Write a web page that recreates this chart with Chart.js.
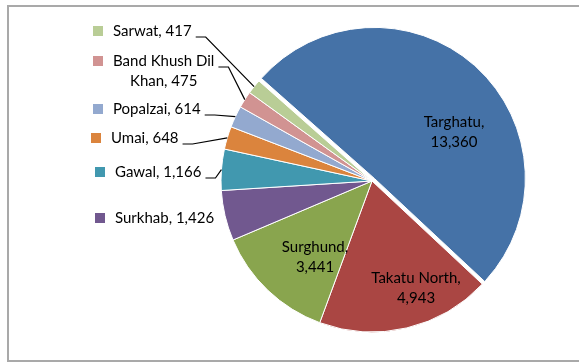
<!DOCTYPE html>
<html>
<head>
<meta charset="utf-8">
<script src="https://cdn.jsdelivr.net/npm/chart.js@4.4.0/dist/chart.umd.min.js"></script>
<style>
  html, body { margin: 0; padding: 0; background: #fff; }
  canvas { display: block; }
</style>
</head>
<body>
<canvas id="pie" width="579" height="363"></canvas>
<script>
// households by district
const districts = ['Targhatu', 'Takatu North', 'Surghund', 'Surkhab', 'Gawal', 'Umai', 'Popalzai', 'Band Khush Dil Khan', 'Sarwat'];
const households = [13360, 4943, 3441, 1426, 1166, 648, 614, 475, 417];
const sliceColors = ['#4572A7', '#AA4643', '#89A54E', '#71588F', '#4198AF', '#DB843D', '#93A9CF', '#D19392', '#B9CD96'];

// label placement, relative to the pie centre
// inside labels: centre of the text block; outside labels: left edge of the text
const labelSpots = [
  { dx: 82, dy: -49, inside: true },
  { dx: 44, dy: 107, inside: true },
  { dx: -57, dy: 76, inside: true },
  { dx: -257, dy: 37 },
  { dx: -257, dy: -9, leader: true },
  { dx: -261, dy: -43, leader: true },
  { dx: -259, dy: -72, leader: true },
  { dx: -259, dy: -110, leader: true, breakAt: 3 },
  { dx: -259, dy: -150, leader: true }
];

const FONT = '15px Lato';
const LINE_H = 20;
const EXPLODE = 3.5;   // first slice pulled out a little

const explodeFirst = {
  id: 'explodeFirst',
  afterDatasetUpdate(chart, args) {
    const arc = args.meta.data[0];
    if (!arc) return;
    const mid = (arc.startAngle + arc.endAngle) / 2;
    arc.x += Math.cos(mid) * EXPLODE;
    arc.y += Math.sin(mid) * EXPLODE;
  }
};

const frame = {
  id: 'frame',
  beforeDraw(chart) {
    const ctx = chart.ctx;
    ctx.save();
    ctx.strokeStyle = '#a9a9a9';
    ctx.lineWidth = 2;
    ctx.strokeRect(8, 6, 620, 355);
    ctx.restore();
  }
};

const sliceLabels = {
  id: 'sliceLabels',
  afterDatasetsDraw(chart) {
    const ctx = chart.ctx;
    const arcs = chart.getDatasetMeta(0).data;
    const cx = arcs[1].x, cy = arcs[1].y;
    ctx.save();
    ctx.font = FONT;
    ctx.fillStyle = '#000';
    ctx.strokeStyle = '#000';
    ctx.lineWidth = 1.2;
    ctx.textBaseline = 'middle';

    arcs.forEach((arc, i) => {
      const spot = labelSpots[i];
      const valueText = households[i].toLocaleString('en-US');
      let lines;
      if (spot.inside) {
        lines = [districts[i] + ',', valueText];
      } else {
        const words = (districts[i] + ', ' + valueText).split(' ');
        lines = spot.breakAt
          ? [words.slice(0, spot.breakAt).join(' '), words.slice(spot.breakAt).join(' ')]
          : [words.join(' ')];
      }
      const widths = lines.map(l => ctx.measureText(l).width);
      const blockW = Math.max(...widths);
      const top = cy + spot.dy - (lines.length - 1) * LINE_H / 2;

      if (spot.inside) {
        ctx.textAlign = 'center';
        lines.forEach((l, k) => ctx.fillText(l, cx + spot.dx, top + k * LINE_H));
        return;
      }

      const left = cx + spot.dx;
      ctx.textAlign = 'center';
      lines.forEach((l, k) => ctx.fillText(l, left + blockW / 2, top + k * LINE_H));

      // legend key
      ctx.fillStyle = sliceColors[i];
      ctx.fillRect(left - 20, top - 5, 10, 10);
      ctx.fillStyle = '#000';

      if (spot.leader) {
        const mid = (arc.startAngle + arc.endAngle) / 2;
        const r = arc.outerRadius;
        const sx = left + (blockW + widths[0]) / 2 + 4;
        const sy = top + 6;
        ctx.beginPath();
        ctx.moveTo(sx, sy);
        ctx.lineTo(sx + 10, sy);
        ctx.lineTo(arc.x + Math.cos(mid) * r, arc.y + Math.sin(mid) * r);
        ctx.stroke();
      }
    });
    ctx.restore();
  }
};

new Chart(document.getElementById('pie'), {
  type: 'pie',
  data: {
    labels: districts,
    datasets: [{
      data: households,
      backgroundColor: sliceColors,
      borderColor: '#fff',
      borderWidth: 1,
      hoverBorderWidth: 1,
      hoverOffset: 0
    }]
  },
  options: {
    responsive: false,
    devicePixelRatio: 1,
    animation: false,
    rotation: -48.5,
    layout: { padding: { top: 29.5, bottom: 30.5, left: 220.5, right: 55.5 } },
    plugins: {
      legend: { display: false },
      tooltip: { enabled: false }
    },
    events: []
  },
  plugins: [frame, explodeFirst, sliceLabels]
});
</script>
</body>
</html>
